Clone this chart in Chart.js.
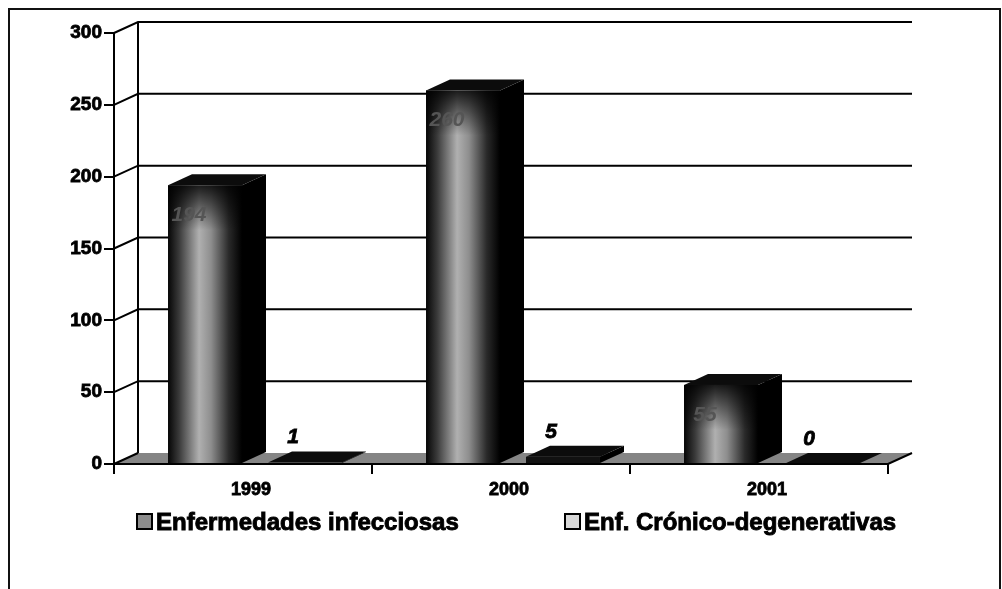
<!DOCTYPE html>
<html>
<head>
<meta charset="utf-8">
<script src="https://cdn.jsdelivr.net/npm/chart.js@4.4.1/dist/chart.umd.min.js"></script>
<style>
  html, body { margin:0; padding:0; background:#fff; overflow:hidden; }
  #wrap { position:absolute; left:0; top:0; width:1002px; height:589px; }
  #frame { position:absolute; left:8px; top:8px; width:989px; height:700px; border:2px solid #111; }
  canvas { position:absolute; left:0; top:0; }
</style>
</head>
<body>
<div id="wrap">
  <div id="frame"></div>
  <canvas id="c" width="1002" height="589"></canvas>
</div>
<script>
const categories = ['1999', '2000', '2001'];
const infecciosas = [194, 260, 55];
const cronicas = [1, 5, 0];
const seriesNames = ['Enfermedades infecciosas', 'Enf. Crónico-degenerativas'];
const yMin = 0, yMax = 300, yStep = 50;

const DX = 24, DY = -11, SHIFT = 12;
const FONT = '"Liberation Sans", Arial, sans-serif';

const threeD = {
  id: 'threeD',
  beforeDatasetsDraw(chart) {
    const ctx = chart.ctx;
    const { left, right, bottom } = chart.chartArea;
    const y = chart.scales.y;
    ctx.save();
    // floor
    ctx.fillStyle = '#858585';
    ctx.beginPath();
    ctx.moveTo(left, bottom);
    ctx.lineTo(right, bottom);
    ctx.lineTo(right + DX, bottom + DY);
    ctx.lineTo(left + DX, bottom + DY);
    ctx.closePath();
    ctx.fill();
    // back wall grid
    ctx.strokeStyle = '#000';
    ctx.lineWidth = 2;
    y.ticks.forEach(t => {
      const yy = y.getPixelForValue(t.value);
      ctx.beginPath();
      ctx.moveTo(left, yy);
      ctx.lineTo(left + DX, yy + DY);
      if (t.value !== 0) ctx.lineTo(right + DX, yy + DY);
      ctx.stroke();
    });
    // back wall left edge
    ctx.beginPath();
    ctx.moveTo(left + DX, y.getPixelForValue(yMax) + DY);
    ctx.lineTo(left + DX, bottom + DY);
    ctx.stroke();
    ctx.restore();
  },
  afterDatasetsDraw(chart) {
    const ctx = chart.ctx;
    const { left, right, bottom } = chart.chartArea;
    ctx.save();
    chart.data.datasets.forEach((ds, i) => {
      const meta = chart.getDatasetMeta(i);
      meta.data.forEach((el) => {
        const x = el.x + SHIFT, w = el.width;
        const xl = x - w / 2, xr = x + w / 2;
        const yt = el.y, yb = el.base;
        // side face
        ctx.fillStyle = '#000';
        ctx.beginPath();
        ctx.moveTo(xr, yt); ctx.lineTo(xr + DX, yt + DY);
        ctx.lineTo(xr + DX, yb + DY); ctx.lineTo(xr, yb);
        ctx.closePath(); ctx.fill();
        // top face
        ctx.fillStyle = '#0c0c0c';
        ctx.beginPath();
        ctx.moveTo(xl, yt); ctx.lineTo(xl + DX, yt + DY);
        ctx.lineTo(xr + DX, yt + DY); ctx.lineTo(xr, yt);
        ctx.closePath(); ctx.fill();
        // front face
        if (yb - yt > 0.5) {
          if (i === 0) {
            const g = ctx.createLinearGradient(xl, 0, xr, 0);
            g.addColorStop(0, '#050505');
            g.addColorStop(0.15, '#3a3a3a');
            g.addColorStop(0.42, '#b0b0b0');
            g.addColorStop(0.58, '#8e8e8e');
            g.addColorStop(0.82, '#2a2a2a');
            g.addColorStop(1, '#000');
            ctx.fillStyle = g;
            ctx.fillRect(xl, yt, w, yb - yt);
            const gv = ctx.createLinearGradient(0, yt, 0, yt + 45);
            gv.addColorStop(0, 'rgba(0,0,0,0.85)');
            gv.addColorStop(1, 'rgba(0,0,0,0)');
            ctx.fillStyle = gv;
            ctx.fillRect(xl, yt, w, Math.min(45, yb - yt));
          } else {
            ctx.fillStyle = '#111';
            ctx.fillRect(xl, yt, w, yb - yt);
          }
        }
      });
    });
    // floor front edge
    ctx.strokeStyle = '#000';
    ctx.lineWidth = 2;
    ctx.beginPath();
    ctx.moveTo(left, bottom); ctx.lineTo(right, bottom); ctx.lineTo(right + DX, bottom + DY);
    ctx.stroke();
    // value labels
    ctx.textAlign = 'center';
    ctx.textBaseline = 'middle';
    ctx.font = 'italic bold 21px ' + FONT;
    ctx.lineWidth = 0.8;
    chart.data.datasets.forEach((ds, i) => {
      const meta = chart.getDatasetMeta(i);
      meta.data.forEach((el, j) => {
        const v = ds.data[j];
        if (i === 0) {
          ctx.fillStyle = '#555';
          ctx.fillText(String(v), el.x - 4, el.y + 30);
        } else {
          ctx.fillStyle = '#000';
          ctx.strokeStyle = '#000';
          ctx.fillText(String(v), el.x, el.y - 25);
          ctx.strokeText(String(v), el.x, el.y - 25);
        }
      });
    });
    ctx.restore();
  },
  afterDraw(chart) {
    const ctx = chart.ctx;
    ctx.save();
    ctx.font = 'bold 24px ' + FONT;
    ctx.textBaseline = 'middle';
    ctx.textAlign = 'left';
    const cy = 522;
    const items = [
      { x: 137, fill: '#8c8c8c' },
      { x: 565, fill: '#d8d8d8' }
    ];
    items.forEach((it, i) => {
      ctx.fillStyle = it.fill;
      ctx.fillRect(it.x, cy - 8, 15, 15);
      ctx.strokeStyle = '#000';
      ctx.lineWidth = 2;
      ctx.strokeRect(it.x, cy - 8, 15, 15);
      ctx.fillStyle = '#000';
      ctx.lineWidth = 0.9;
      ctx.fillText(seriesNames[i], it.x + 19, cy + 1);
      ctx.strokeText(seriesNames[i], it.x + 19, cy + 1);
    });
    ctx.restore();
  }
};

new Chart(document.getElementById('c'), {
  type: 'bar',
  data: {
    labels: categories,
    datasets: [
      { label: seriesNames[0], data: infecciosas, backgroundColor: 'rgba(0,0,0,0)', borderWidth: 0,
        barPercentage: 0.74, categoryPercentage: 0.775 },
      { label: seriesNames[1], data: cronicas, backgroundColor: 'rgba(0,0,0,0)', borderWidth: 0,
        barPercentage: 0.74, categoryPercentage: 0.775 }
    ]
  },
  options: {
    responsive: false,
    animation: false,
    events: [],
    layout: { padding: { left: 0, top: 33, right: 114, bottom: 0 } },
    plugins: { legend: { display: false }, tooltip: { enabled: false } },
    scales: {
      x: {
        afterFit(s) { s.height = 125; },
        grid: { display: true, drawOnChartArea: false, tickLength: 10, color: '#000', lineWidth: 2, offset: true },
        border: { display: true, color: '#000', width: 2 },
        ticks: { color: '#000', font: { family: FONT, size: 18, weight: 'bold' }, padding: 5, labelOffset: 8,
                 textStrokeColor: '#000', textStrokeWidth: 0.8 }
      },
      y: {
        min: yMin, max: yMax,
        afterFit(s) { s.width = 114; },
        grid: { display: true, drawOnChartArea: false, tickLength: 10, color: '#000', lineWidth: 2 },
        border: { display: true, color: '#000', width: 2 },
        ticks: { stepSize: yStep, color: '#000', font: { family: FONT, size: 19, weight: 'bold' }, padding: 2,
                 textStrokeColor: '#000', textStrokeWidth: 0.8 }
      }
    }
  },
  plugins: [threeD]
});
</script>
</body>
</html>
